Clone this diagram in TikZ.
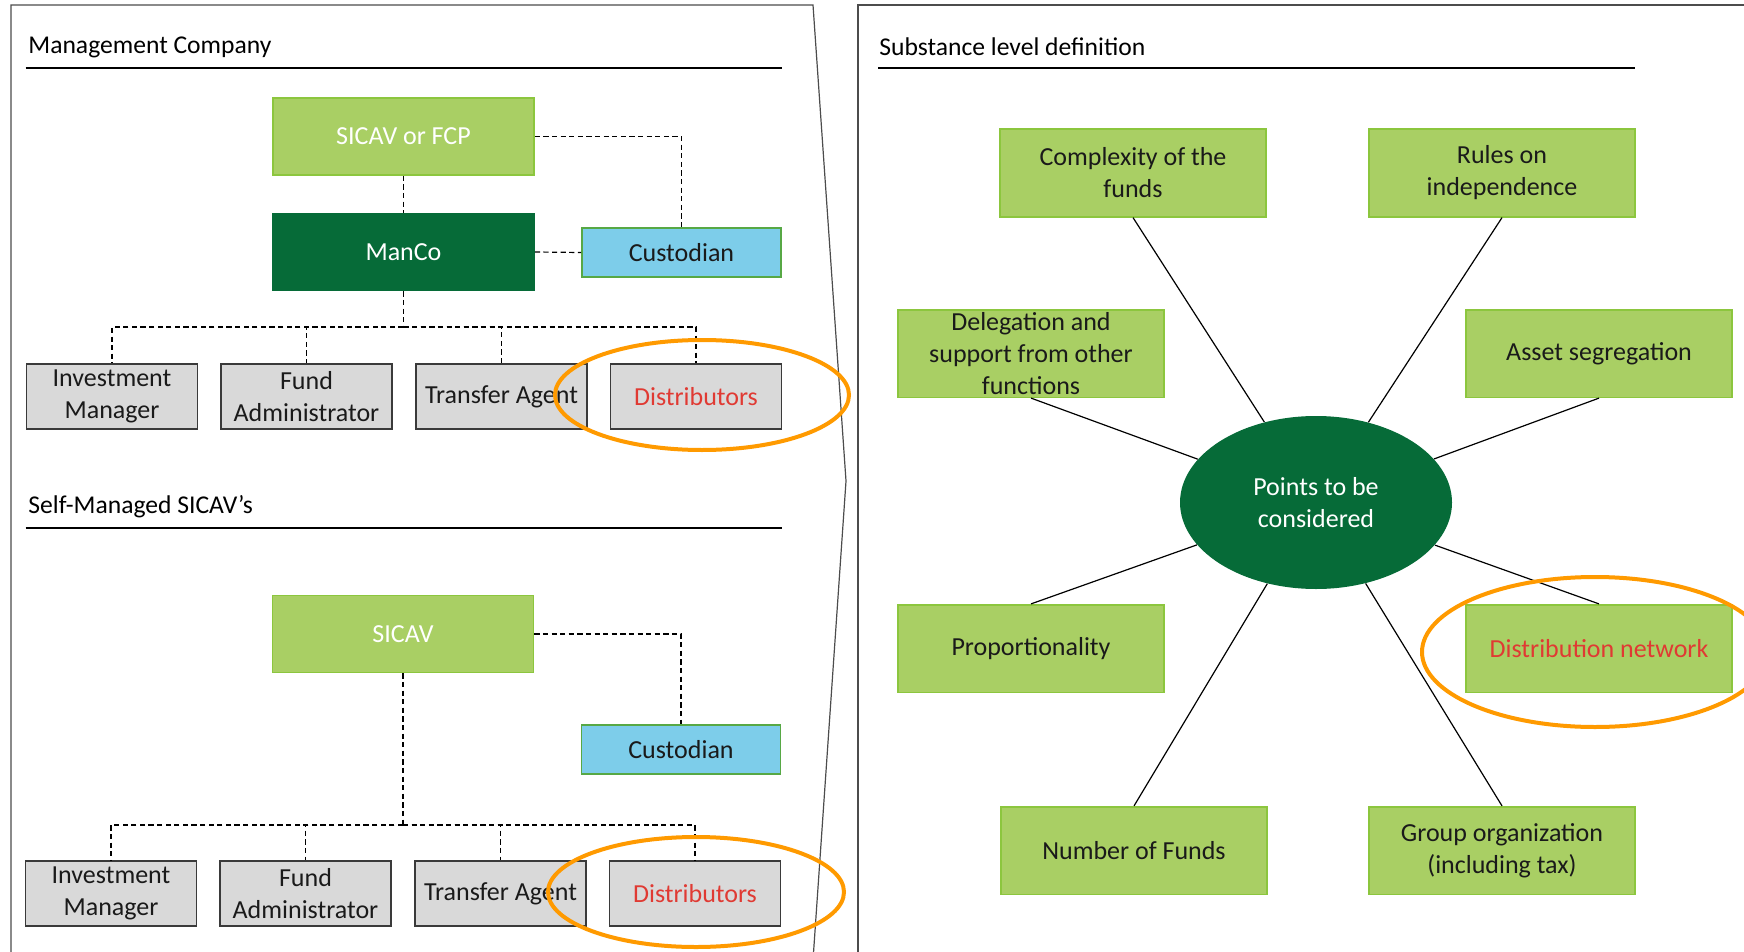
\documentclass[tikz,border=0pt]{standalone}
\usepackage{fontspec}
\setmainfont{Carlito}
\usetikzlibrary{shapes.geometric}
\definecolor{lgreen}{HTML}{A9CF64}
\definecolor{lgreenline}{HTML}{8CC63E}
\definecolor{dgreen}{HTML}{066B38}
\definecolor{skyblue}{HTML}{7DCDEA}
\definecolor{skyline}{HTML}{57A845}
\definecolor{boxgrey}{HTML}{D9D9D9}
\definecolor{greyline}{HTML}{3A3A3A}
\definecolor{txtred}{HTML}{E03A33}
\definecolor{hiorange}{HTML}{FF9A00}
\definecolor{txtdark}{HTML}{1A1A1A}
\tikzset{
  boxfont/.style={font=\fontsize{13}{16}\selectfont, align=center},
  greenbox/.style={boxfont, rectangle, fill=lgreen, draw=lgreenline, line width=0.8pt, inner sep=0pt, text=txtdark},
  whitebox/.style={greenbox, text=white},
  mancobox/.style={boxfont, rectangle, fill=dgreen, draw=dgreen, line width=0.8pt, inner sep=0pt, text=white},
  custbox/.style={boxfont, rectangle, fill=skyblue, draw=skyline, line width=0.9pt, inner sep=0pt, text=txtdark,
                  minimum width=99.5pt, minimum height=24.5pt},
  rolebox/.style={boxfont, rectangle, fill=boxgrey, draw=greyline, line width=0.8pt, inner sep=0pt, text=txtdark,
                  minimum width=85.5pt, minimum height=32.5pt},
  topbox/.style={minimum width=130.5pt, minimum height=38.5pt},
  pointbox/.style={greenbox, minimum width=133pt, minimum height=43.8pt},
  link/.style={dashed, dash pattern=on 2.6pt off 1.7pt, line width=0.6pt, black},
  spoke/.style={line width=0.6pt, black},
  panel/.style={line width=0.6pt, draw=black!70},
  rule/.style={line width=1.2pt, black},
  title/.style={font=\fontsize{12.8}{15}\selectfont, anchor=west, inner sep=0pt, text=black},
  highlight/.style={draw=hiorange, line width=2pt}
}
\begin{document}
\begin{tikzpicture}[x=0.5pt, y=-0.5pt]
\useasboundingbox (0,0) rectangle (1744,952);
\clip (0,0) rectangle (1744,952);

% panel outlines
\draw[panel] (11,960) -- (11,5) -- (813,5) -- (846,481) -- (813,960);
\draw[panel] (858,960) -- (858,5) -- (1750,5);

% section titles and rules
\node[title] (tManCo) at (28,47) {Management Company};
\draw[rule] (25.5,68) -- (782,68);
\node[title] (tSelf) at (28,507) {Self-Managed SICAV’s};
\draw[rule] (25.5,528) -- (782,528);
\node[title] (tSub) at (879,47) {Substance level definition};
\draw[rule] (878,68) -- (1634.5,68);

% --- Management company structure ---
\node[whitebox, topbox] (sicA) at (403.5,136.5) {SICAV or FCP};
\node[mancobox, topbox] (manco) at (403.5,252) {ManCo};
\node[custbox] (custA) at (681.5,252.5) {Custodian};
\node[rolebox] (imA) at (112,396.5) {Investment\\Manager};
\node[rolebox] (faA) at (306.5,396.5) {Fund\\Administrator};
\node[rolebox] (taA) at (501.5,396.5) {Transfer Agent};
\node[rolebox, text=txtred] (diA) at (696,396.5) {Distributors};
\coordinate (busA) at (403.5,327);

\draw[link] (sicA.south) -- (manco.north);
\draw[link] (sicA.east) -| (custA.north);
\draw[link] (manco.east) -- (custA.west);
\draw[link] (manco.south) -- (busA);
\draw[link] (busA) -| (imA.north);
\draw[link] (busA) -| (faA.north);
\draw[link] (busA) -| (taA.north);
\draw[link] (busA) -| (diA.north);

% --- Self-managed structure ---
\node[whitebox, topbox] (sicB) at (403,634) {SICAV};
\node[custbox] (custB) at (681,749.5) {Custodian};
\node[rolebox] (imB) at (111,893.5) {Investment\\Manager};
\node[rolebox] (faB) at (305.5,893.5) {Fund\\Administrator};
\node[rolebox] (taB) at (500.5,893.5) {Transfer Agent};
\node[rolebox, text=txtred] (diB) at (695,893.5) {Distributors};
\coordinate (busB) at (403,825);

\draw[link] (sicB.east) -| (custB.north);
\draw[link] (sicB.south) -- (busB);
\draw[link] (busB) -| (imB.north);
\draw[link] (busB) -| (faB.north);
\draw[link] (busB) -| (taB.north);
\draw[link] (busB) -| (diB.north);

% --- Substance level definition ---
\node[ellipse, fill=dgreen, draw=none, minimum width=136pt, minimum height=86.5pt, inner sep=0pt,
      boxfont, text=white] (pts) at (1316,502.5) {Points to be\\considered};
\node[pointbox] (comp) at (1133,173) {Complexity of the\\funds};
\node[pointbox] (rules) at (1502,173) {Rules on\\independence};
\node[pointbox] (deleg) at (1031,353.5) {Delegation and\\support from other\\functions};
\node[pointbox] (asset) at (1599,353.5) {Asset segregation};
\node[pointbox] (prop) at (1031,648.5) {Proportionality};
\node[pointbox, text=txtred] (distn) at (1599,648.5) {Distribution network};
\node[pointbox] (numf) at (1134,850.5) {Number of Funds};
\node[pointbox] (group) at (1502,850.5) {Group organization\\(including tax)};

\draw[spoke] (comp.south) -- (pts);
\draw[spoke] (rules.south) -- (pts);
\draw[spoke] (deleg.south) -- (pts);
\draw[spoke] (asset.south) -- (pts);
\draw[spoke] (prop.north) -- (pts);
\draw[spoke] (distn.north) -- (pts);
\draw[spoke] (numf.north) -- (pts);
\draw[spoke] (group.north) -- (pts);

% highlights
\draw[highlight] (702,395) ellipse [x radius=73.5pt, y radius=27.5pt];
\draw[highlight] (696,892) ellipse [x radius=74pt, y radius=27.5pt];
\draw[highlight] (1595,652) ellipse [x radius=86.5pt, y radius=37.5pt];
\end{tikzpicture}
\end{document}
